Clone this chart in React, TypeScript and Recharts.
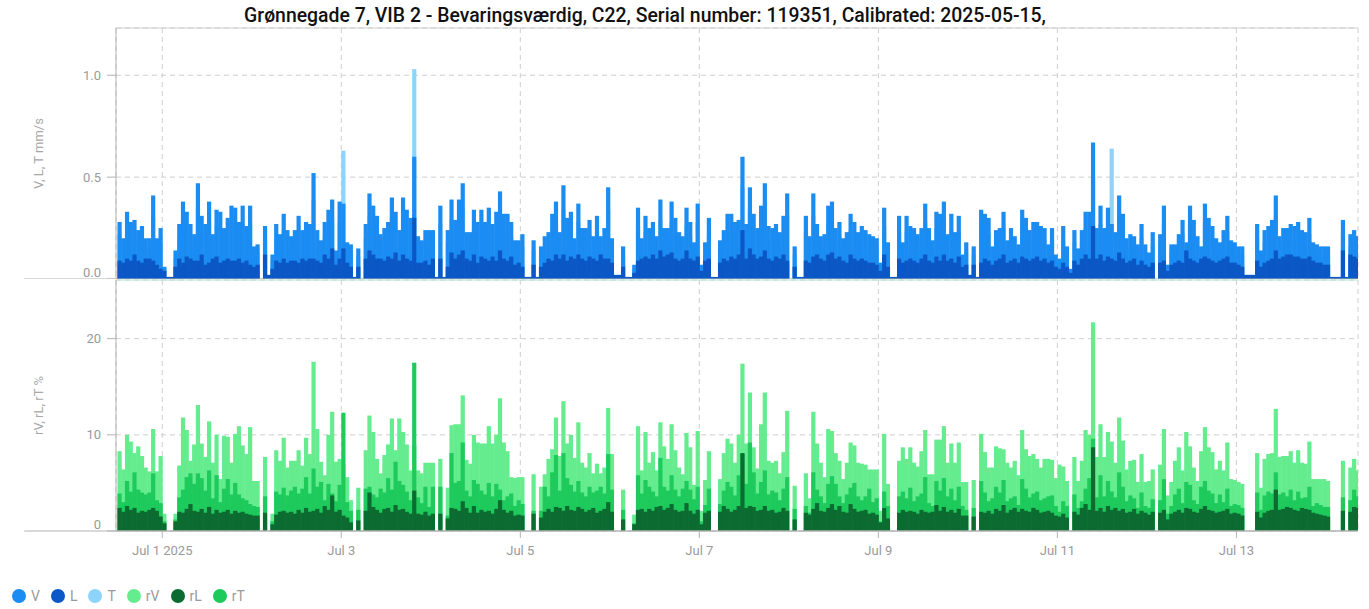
import { BarChart, Bar, XAxis, YAxis, CartesianGrid, ReferenceLine } from "recharts";

// hourly values, first bar = Jun 30 12:00, one row per day
const V = [
  0.28, 0.20, 0.33, 0.28, 0.29, 0.24, 0.26, 0.20, 0.20, 0.41, 0.20, 0.25,
  0.06, 0.01, 0.01, 0.14, 0.27, 0.38, 0.33, 0.27, 0.22, 0.47, 0.31, 0.27, 0.38, 0.22, 0.34, 0.33, 0.25, 0.30, 0.36, 0.35, 0.28, 0.36, 0.26, 0.36,
  0.16, 0.17, null, 0.26, 0.02, 0.12, 0.27, 0.22, 0.32, 0.24, 0.21, 0.24, 0.31, 0.24, 0.28, 0.27, 0.52, 0.24, 0.19, 0.28, 0.34, 0.39, 0.14, 0.38,
  0.37, 0.18, 0.17, 0.01, 0.15, null, 0.27, 0.42, 0.36, 0.31, 0.22, 0.25, 0.28, 0.40, 0.33, 0.24, 0.40, 0.34, 0.30, 0.60, 0.21, 0.19, 0.24, 0.24,
  0.24, 0.01, 0.36, 0.01, 0.24, 0.39, 0.29, 0.39, 0.47, 0.23, 0.23, 0.34, 0.28, 0.34, 0.28, 0.35, 0.27, 0.33, 0.43, 0.32, 0.32, 0.28, 0.19, 0.19,
  0.22, 0.01, 0.01, 0.19, 0.01, 0.16, 0.21, 0.23, 0.32, 0.38, 0.23, 0.46, 0.30, 0.33, 0.20, 0.37, 0.25, 0.25, 0.29, 0.21, 0.31, 0.21, 0.25, 0.45,
  0.20, 0.02, 0.02, 0.16, 0.01, 0.01, 0.07, 0.35, 0.20, 0.31, 0.25, 0.28, 0.21, 0.39, 0.25, 0.25, 0.38, 0.30, 0.23, 0.21, 0.35, 0.28, 0.18, 0.37,
  0.07, 0.18, 0.30, 0.01, 0.01, 0.19, 0.24, 0.32, 0.32, 0.28, 0.29, 0.60, 0.27, 0.45, 0.32, 0.25, 0.36, 0.47, 0.26, 0.25, 0.27, 0.23, 0.31, 0.42,
  null, 0.16, 0.01, 0.01, 0.31, 0.21, 0.42, 0.27, 0.21, 0.22, 0.36, 0.38, 0.25, 0.28, 0.20, 0.23, 0.32, 0.28, 0.23, 0.26, 0.24, 0.22, 0.21, 0.20,
  0.08, 0.35, 0.18, 0.01, 0.01, 0.31, 0.18, 0.31, 0.26, 0.25, 0.22, 0.25, 0.37, 0.25, 0.19, 0.33, 0.32, 0.38, 0.22, 0.32, 0.23, 0.31, 0.12, 0.18,
  0.02, 0.16, 0.01, 0.34, 0.32, 0.30, 0.16, 0.24, 0.25, 0.33, 0.19, 0.25, 0.21, 0.17, 0.34, 0.30, 0.24, 0.28, 0.28, 0.26, 0.25, 0.17, 0.25, 0.12,
  0.10, 0.26, 0.16, 0.05, 0.24, 0.15, 0.24, 0.33, 0.33, 0.67, 0.25, 0.36, 0.25, 0.35, 0.27, 0.23, 0.41, 0.32, 0.20, 0.22, 0.21, 0.17, 0.27, 0.17,
  0.13, 0.23, null, 0.22, 0.36, 0.07, 0.17, 0.17, 0.22, 0.29, 0.18, 0.36, 0.29, 0.21, 0.16, 0.37, 0.30, 0.26, 0.20, 0.18, 0.24, 0.31, 0.19, 0.18,
  0.16, 0.16, 0.02, 0.02, 0.02, 0.27, 0.14, 0.24, 0.26, 0.29, 0.41, 0.21, 0.25, 0.25, 0.27, 0.26, 0.28, 0.24, 0.23, 0.30, 0.18, 0.17, 0.16, 0.16,
  0.16, 0.01, 0.01, 0.01, 0.29, 0.01, 0.22, 0.24, 0.21,
];

const L = [
  0.09, 0.08, 0.10, 0.09, 0.12, 0.09, 0.08, 0.10, 0.10, 0.09, 0.07, 0.05,
  0.04, 0.01, 0.01, 0.06, 0.10, 0.08, 0.11, 0.10, 0.09, 0.09, 0.12, 0.07, 0.08, 0.10, 0.11, 0.08, 0.09, 0.10, 0.09, 0.09, 0.10, 0.08, 0.09, 0.07,
  0.06, 0.07, null, 0.12, 0.02, 0.05, 0.09, 0.08, 0.10, 0.08, 0.09, 0.09, 0.08, 0.10, 0.09, 0.10, 0.10, 0.09, 0.08, 0.12, 0.10, 0.15, 0.07, 0.10,
  0.15, 0.08, 0.06, 0.01, 0.06, null, 0.10, 0.14, 0.12, 0.10, 0.10, 0.09, 0.11, 0.10, 0.13, 0.09, 0.12, 0.10, 0.09, 0.30, 0.08, 0.08, 0.09, 0.07,
  0.10, 0.01, 0.10, 0.01, 0.06, 0.13, 0.10, 0.12, 0.14, 0.10, 0.09, 0.12, 0.08, 0.11, 0.10, 0.09, 0.11, 0.09, 0.14, 0.10, 0.09, 0.11, 0.07, 0.08,
  0.06, 0.01, 0.01, 0.07, 0.01, 0.06, 0.08, 0.10, 0.09, 0.12, 0.10, 0.12, 0.09, 0.11, 0.10, 0.12, 0.10, 0.09, 0.11, 0.10, 0.09, 0.12, 0.10, 0.10,
  0.08, 0.02, 0.02, 0.06, 0.01, 0.01, 0.03, 0.09, 0.10, 0.11, 0.10, 0.12, 0.10, 0.14, 0.11, 0.12, 0.13, 0.10, 0.09, 0.10, 0.14, 0.10, 0.09, 0.11,
  0.04, 0.09, 0.10, 0.01, 0.01, 0.08, 0.10, 0.09, 0.11, 0.10, 0.12, 0.24, 0.10, 0.15, 0.12, 0.10, 0.11, 0.14, 0.10, 0.09, 0.11, 0.10, 0.12, 0.09,
  null, 0.06, 0.01, 0.01, 0.09, 0.08, 0.11, 0.12, 0.10, 0.09, 0.12, 0.13, 0.10, 0.11, 0.09, 0.08, 0.12, 0.10, 0.09, 0.10, 0.09, 0.08, 0.08, 0.07,
  0.04, 0.12, 0.06, 0.01, 0.01, 0.10, 0.08, 0.09, 0.10, 0.09, 0.08, 0.10, 0.12, 0.09, 0.08, 0.11, 0.09, 0.12, 0.09, 0.10, 0.08, 0.11, 0.06, 0.07,
  0.02, 0.07, 0.01, 0.08, 0.10, 0.09, 0.07, 0.09, 0.10, 0.12, 0.08, 0.09, 0.10, 0.08, 0.11, 0.10, 0.09, 0.10, 0.11, 0.09, 0.10, 0.08, 0.09, 0.06,
  0.05, 0.08, 0.06, 0.03, 0.09, 0.07, 0.10, 0.12, 0.10, 0.26, 0.10, 0.12, 0.09, 0.11, 0.10, 0.09, 0.13, 0.10, 0.08, 0.09, 0.10, 0.07, 0.09, 0.07,
  0.06, 0.08, null, 0.08, 0.09, 0.04, 0.07, 0.08, 0.09, 0.08, 0.14, 0.10, 0.09, 0.08, 0.10, 0.11, 0.10, 0.09, 0.08, 0.09, 0.10, 0.11, 0.08, 0.08,
  0.07, 0.06, 0.02, 0.02, 0.02, 0.09, 0.06, 0.08, 0.09, 0.10, 0.14, 0.10, 0.11, 0.12, 0.12, 0.11, 0.11, 0.10, 0.10, 0.11, 0.09, 0.08, 0.08, 0.07,
  0.07, 0.01, 0.01, 0.01, 0.14, 0.01, 0.12, 0.11, 0.10,
];

const T = [
  0.22, 0.15, 0.25, 0.21, 0.22, 0.18, 0.20, 0.16, 0.15, 0.30, 0.16, 0.18,
  0.05, 0.01, 0.01, 0.10, 0.20, 0.28, 0.25, 0.20, 0.17, 0.35, 0.24, 0.20, 0.28, 0.17, 0.26, 0.25, 0.19, 0.23, 0.27, 0.26, 0.21, 0.27, 0.20, 0.27,
  0.12, 0.13, null, 0.20, 0.02, 0.09, 0.20, 0.17, 0.24, 0.18, 0.16, 0.18, 0.23, 0.18, 0.21, 0.20, 0.39, 0.18, 0.14, 0.21, 0.25, 0.29, 0.11, 0.28,
  0.63, 0.14, 0.13, 0.01, 0.11, null, 0.20, 0.31, 0.27, 0.23, 0.17, 0.19, 0.21, 0.30, 0.25, 0.18, 0.30, 0.25, 0.22, 1.03, 0.16, 0.14, 0.18, 0.18,
  0.18, 0.01, 0.27, 0.01, 0.18, 0.29, 0.22, 0.29, 0.35, 0.17, 0.17, 0.25, 0.21, 0.25, 0.21, 0.26, 0.20, 0.25, 0.32, 0.24, 0.24, 0.21, 0.14, 0.14,
  0.16, 0.01, 0.01, 0.14, 0.01, 0.12, 0.16, 0.17, 0.24, 0.28, 0.17, 0.34, 0.22, 0.25, 0.15, 0.28, 0.19, 0.19, 0.22, 0.16, 0.23, 0.16, 0.19, 0.34,
  0.15, 0.02, 0.02, 0.12, 0.01, 0.01, 0.05, 0.26, 0.15, 0.23, 0.19, 0.21, 0.16, 0.29, 0.19, 0.19, 0.28, 0.22, 0.17, 0.16, 0.26, 0.21, 0.13, 0.28,
  0.05, 0.13, 0.22, 0.01, 0.01, 0.14, 0.18, 0.24, 0.24, 0.21, 0.22, 0.45, 0.20, 0.34, 0.24, 0.19, 0.27, 0.35, 0.19, 0.19, 0.20, 0.17, 0.23, 0.31,
  null, 0.12, 0.01, 0.01, 0.23, 0.16, 0.31, 0.20, 0.16, 0.16, 0.27, 0.28, 0.19, 0.21, 0.15, 0.17, 0.24, 0.21, 0.17, 0.19, 0.18, 0.16, 0.16, 0.15,
  0.06, 0.26, 0.13, 0.01, 0.01, 0.23, 0.13, 0.23, 0.19, 0.19, 0.16, 0.19, 0.28, 0.19, 0.14, 0.25, 0.24, 0.28, 0.16, 0.24, 0.17, 0.23, 0.09, 0.13,
  0.02, 0.12, 0.01, 0.25, 0.24, 0.22, 0.12, 0.18, 0.19, 0.25, 0.14, 0.19, 0.16, 0.13, 0.25, 0.22, 0.18, 0.21, 0.21, 0.19, 0.19, 0.13, 0.19, 0.09,
  0.08, 0.19, 0.12, 0.04, 0.18, 0.11, 0.18, 0.25, 0.25, 0.50, 0.19, 0.27, 0.19, 0.26, 0.64, 0.17, 0.31, 0.24, 0.15, 0.16, 0.16, 0.13, 0.20, 0.13,
  0.10, 0.17, null, 0.16, 0.27, 0.05, 0.13, 0.13, 0.16, 0.22, 0.13, 0.27, 0.22, 0.16, 0.12, 0.28, 0.22, 0.19, 0.15, 0.13, 0.18, 0.23, 0.14, 0.13,
  0.12, 0.12, 0.02, 0.02, 0.02, 0.20, 0.10, 0.18, 0.19, 0.22, 0.31, 0.16, 0.19, 0.19, 0.20, 0.19, 0.21, 0.18, 0.17, 0.22, 0.13, 0.13, 0.12, 0.12,
  0.12, 0.01, 0.01, 0.01, 0.22, 0.01, 0.16, 0.18, 0.16,
];

const rV = [
  8.3, 6.4, 10.0, 9.3, 8.1, 8.8, 7.8, 6.6, 6.2, 10.6, 6.2, 7.8,
  1.8, null, null, 1.8, 6.8, 11.8, 10.5, 7.3, 9.0, 13.1, 9.1, 7.7, 11.4, 7.1, 10.0, 5.4, 9.9, 9.8, 7.1, 10.1, 10.9, 8.9, 8.0, 10.8,
  5.2, 5.2, null, 7.7, null, 1.8, 8.4, 7.3, 9.7, 6.6, 7.3, 7.3, 8.4, 6.8, 9.7, 8.0, 17.6, 10.6, 7.2, 5.8, 10.0, 12.4, 7.2, 7.5,
  7.0, 5.6, 3.2, null, 4.5, null, 8.4, 12.0, 10.3, 7.5, 6.0, 7.9, 9.0, 11.7, 8.4, 11.7, 10.3, 9.0, 6.3, 8.9, 6.3, 6.0, 7.1, 7.1,
  7.1, null, 7.5, null, 4.5, 11.0, 11.1, 11.1, 14.1, 7.4, 7.0, 10.0, 9.2, 9.1, 9.1, 10.9, 9.1, 10.0, 13.8, 9.2, 8.3, 5.6, 5.5, 5.6,
  5.6, null, null, 5.9, null, 4.6, 5.9, 7.5, 8.5, 11.8, 7.8, 13.5, 9.1, 10.0, 7.6, 11.3, 7.1, 6.6, 8.1, 6.0, 7.0, 6.0, 6.6, 12.8,
  8.0, null, null, 4.3, null, null, 1.7, 10.9, 6.3, 10.3, 7.1, 8.2, 6.3, 11.3, 8.8, 7.5, 11.1, 8.4, 6.6, 5.9, 10.2, 8.7, 4.8, 10.4,
  2.1, 5.3, 8.3, null, null, 5.4, 8.1, 9.6, 9.1, 7.1, 10.0, 17.4, 9.1, 14.4, 8.7, 6.5, 11.1, 14.4, 7.3, 7.1, 7.3, 6.0, 8.2, 12.5,
  null, 4.7, null, null, 6.0, 3.4, 12.4, 9.1, 7.1, 5.6, 10.6, 10.4, 8.1, 7.3, 5.4, 7.1, 9.2, 8.9, 7.1, 7.0, 6.9, 6.4, 6.4, 6.4,
  2.1, 10.1, 4.9, null, null, 7.3, 8.7, 7.5, 8.7, 7.1, 6.7, 8.3, 10.5, 5.9, 5.9, 9.5, 9.5, 10.9, 7.1, 9.1, 7.1, 9.2, 5.1, 5.1,
  null, 5.3, null, 10.1, 8.2, 6.6, 6.6, 8.8, 8.6, 8.5, 7.1, 6.6, 7.3, 5.8, 10.5, 8.5, 7.8, 8.0, 7.5, 6.6, 7.5, 7.5, 7.4, 5.5,
  6.9, 6.7, 5.2, null, 7.7, 5.2, 7.3, 10.5, 10.0, 21.7, 7.7, 11.1, 7.7, 10.3, 9.3, 7.1, 11.8, 9.4, 6.4, 7.3, 7.4, 5.1, 8.0, 5.1,
  5.2, 6.4, null, 6.9, 10.6, 3.7, 5.1, 7.3, 8.7, 6.3, 10.3, 8.8, 6.6, 5.2, 8.3, 10.8, 8.7, 8.2, 6.4, 7.3, 6.3, 9.2, 5.4, 5.3,
  5.1, 4.9, null, null, null, 8.1, 4.5, 7.5, 8.0, 8.1, 12.7, 7.7, 7.8, 7.8, 8.3, 7.1, 8.4, 7.1, 7.0, 9.3, 5.4, 5.4, 5.4, 5.4,
  5.2, null, null, null, 7.3, null, 6.6, 7.5, 6.3,
];

const rT = [
  3.9, 3.0, 5.2, 4.1, 6.1, 4.3, 4.0, 3.8, 4.0, 6.0, 3.2, 2.9,
  1.0, null, null, 1.2, 3.5, 4.3, 5.6, 6.0, 4.9, 6.0, 5.5, 4.2, 6.3, 3.4, 5.8, 3.0, 4.4, 5.4, 3.8, 5.0, 3.8, 3.4, 3.2, 2.8,
  2.6, 2.5, null, 3.6, null, 1.0, 4.1, 3.8, 4.5, 3.7, 4.2, 4.6, 3.9, 4.4, 5.6, 3.9, 6.5, 4.6, 5.1, 3.2, 4.9, 3.9, 3.1, 4.8,
  12.3, 3.0, 2.1, null, 2.2, null, 4.4, 4.6, 3.8, 3.5, 4.4, 4.0, 5.5, 4.3, 7.2, 5.2, 4.8, 4.1, 3.2, 17.5, 3.5, 2.9, 4.6, 2.5,
  4.6, null, 4.6, null, 1.6, 8.1, 5.0, 5.2, 9.2, 4.2, 3.6, 5.3, 4.9, 4.2, 3.8, 5.0, 3.6, 4.9, 4.3, 3.2, 3.6, 3.9, 2.6, 3.2,
  2.8, null, null, 2.1, null, 2.1, 4.6, 3.6, 6.1, 7.9, 4.2, 8.1, 5.5, 4.8, 4.1, 5.2, 4.0, 3.6, 4.6, 4.0, 4.2, 4.6, 3.9, 8.0,
  4.3, null, null, 2.2, null, null, 0.8, 5.8, 3.9, 5.3, 4.6, 4.1, 3.6, 7.6, 4.6, 4.2, 5.8, 4.3, 3.6, 4.4, 5.2, 4.3, 3.3, 4.6,
  1.0, 2.7, 4.4, null, null, 2.8, 4.2, 5.1, 4.6, 3.7, 5.8, 8.0, 4.9, 9.2, 6.1, 3.9, 5.1, 6.3, 3.8, 4.2, 4.0, 3.2, 4.4, 5.6,
  null, 2.3, null, null, 2.6, 1.9, 6.1, 4.3, 3.6, 2.9, 4.9, 5.7, 4.9, 3.6, 2.9, 3.8, 4.5, 5.0, 3.6, 3.2, 3.6, 4.4, 3.0, 3.4,
  1.0, 4.1, 2.6, null, null, 3.6, 4.1, 3.4, 4.5, 3.1, 3.6, 3.9, 5.6, 2.9, 2.6, 5.2, 4.2, 5.5, 3.6, 4.4, 3.2, 4.6, 2.6, 2.2,
  null, 2.4, null, 5.2, 4.0, 3.1, 3.4, 4.6, 4.0, 5.3, 3.1, 3.4, 3.6, 2.7, 5.4, 4.4, 3.5, 3.9, 4.1, 3.2, 3.4, 3.6, 3.7, 2.6,
  2.0, 3.1, 2.6, null, 3.8, 2.4, 3.1, 4.4, 5.5, 9.6, 3.5, 5.8, 3.6, 5.2, 4.1, 3.5, 6.1, 4.6, 3.1, 3.7, 3.4, 2.4, 4.0, 2.6,
  2.4, 3.3, null, 3.2, 5.4, 1.8, 2.6, 3.8, 4.4, 2.9, 5.1, 4.8, 3.2, 2.8, 4.6, 5.2, 4.2, 3.9, 2.9, 3.8, 3.0, 4.4, 2.6, 2.8,
  2.7, 2.4, null, null, null, 4.0, 2.2, 3.7, 4.1, 3.9, 6.1, 3.8, 4.0, 3.6, 4.3, 3.2, 4.1, 3.4, 3.5, 4.6, 2.6, 2.9, 2.7, 2.5,
  2.5, null, null, null, 3.5, null, 3.2, 4.3, 3.6,
];

const rL = [
  2.4, 2.0, 2.6, 2.2, 2.4, 1.9, 2.1, 2.0, 2.2, 2.4, 2.1, 1.5,
  0.8, null, null, 1.0, 2.0, 1.9, 2.3, 2.8, 2.1, 2.0, 2.3, 1.9, 2.5, 1.8, 2.2, 1.9, 2.0, 2.2, 1.8, 2.1, 1.9, 2.0, 1.8, 1.7,
  1.6, 1.6, null, 1.9, null, 0.7, 1.7, 2.0, 2.1, 1.9, 2.0, 1.8, 2.2, 1.9, 2.4, 2.0, 2.1, 2.3, 1.9, 2.6, 2.2, 3.7, 2.0, 2.2,
  1.6, 1.4, 0.9, null, 1.1, null, 2.1, 4.0, 2.5, 2.2, 1.9, 2.3, 2.4, 2.0, 2.7, 2.2, 2.3, 2.0, 1.8, 4.2, 1.8, 1.7, 2.0, 1.6,
  1.8, null, 1.8, null, 1.3, 2.4, 2.3, 2.1, 3.1, 2.4, 1.9, 2.6, 1.9, 2.2, 2.0, 2.1, 1.8, 2.3, 3.2, 2.2, 1.9, 2.1, 1.6, 1.7,
  1.6, null, null, 1.8, null, 1.4, 2.0, 2.3, 2.0, 2.5, 2.4, 2.1, 2.6, 2.2, 2.1, 2.5, 2.3, 2.0, 2.2, 2.4, 1.9, 2.1, 2.3, 3.0,
  2.0, null, null, 1.2, null, null, 0.7, 2.2, 2.3, 2.0, 2.3, 2.1, 2.5, 2.6, 2.2, 2.4, 2.8, 2.2, 2.0, 2.1, 2.9, 2.1, 1.8, 2.2,
  0.7, 1.9, 2.1, null, null, 2.0, 2.6, 2.3, 2.0, 2.2, 2.6, 8.1, 2.4, 2.6, 2.5, 2.1, 2.2, 2.6, 2.1, 2.2, 1.9, 2.0, 2.4, 2.1,
  null, 1.2, null, null, 1.9, 1.7, 2.3, 2.9, 2.1, 2.0, 2.4, 2.8, 2.2, 2.6, 2.0, 1.9, 2.8, 2.3, 2.0, 2.1, 2.2, 1.8, 1.9, 1.7,
  0.9, 2.4, 1.3, null, null, 1.9, 2.2, 2.0, 2.1, 2.0, 1.8, 2.2, 2.0, 1.9, 2.0, 2.7, 2.1, 2.5, 2.0, 2.2, 1.9, 2.3, 1.6, 1.6,
  null, 1.5, null, 2.0, 1.9, 2.1, 1.8, 2.3, 2.1, 2.7, 1.9, 2.2, 2.4, 2.0, 2.3, 2.1, 2.0, 2.4, 2.2, 1.9, 2.0, 2.1, 1.9, 1.6,
  1.5, 1.8, 1.4, null, 2.0, 1.7, 2.4, 2.8, 2.2, 8.7, 2.1, 2.4, 2.0, 2.6, 2.2, 2.4, 2.1, 2.3, 1.9, 2.0, 2.3, 1.8, 2.1, 1.9,
  1.7, 2.0, null, 1.9, 2.2, 1.2, 1.8, 2.0, 2.2, 1.9, 2.4, 2.3, 2.0, 1.9, 2.3, 2.6, 2.2, 2.1, 1.9, 2.0, 2.1, 2.3, 1.8, 1.9,
  1.8, 1.6, null, null, null, 2.0, 1.4, 1.9, 2.1, 2.2, 4.3, 2.2, 2.3, 2.5, 2.4, 2.2, 2.1, 2.4, 2.3, 2.2, 1.9, 1.8, 1.7, 1.6,
  1.5, null, null, null, 2.1, null, 2.0, 2.5, 2.4,
];

// hour index of each labelled midnight
const DAY_TICKS = [12, 60, 108, 156, 204, 252, 300];
const DAY_LABELS = ["Jul 1 2025", "Jul 3", "Jul 5", "Jul 7", "Jul 9", "Jul 11", "Jul 13"];
const TOP_TICKS = [0, 0.5, 1.0];
const BOTTOM_TICKS = [0, 10, 20];

const TITLE =
  "Grønnegade 7, VIB 2 - Bevaringsværdig, C22, Serial number: 119351, Calibrated: 2025-05-15,";

const X_DOMAIN: [number, number] = [-0.4, 332.6];
const TOP_MAX = 1.232;
const BOTTOM_MAX = 26.1;

const COLORS: Record<string, string> = {
  V: "#1a8cf2",
  L: "#0b57c6",
  T: "#8dd3fa",
  rV: "#64ec8e",
  rL: "#0c6b30",
  rT: "#1dca5b",
};
const LEGEND = ["V", "L", "T", "rV", "rL", "rT"];

const rows = V.map((v, i) => ({
  t: i + 0.5,
  V: v,
  L: L[i],
  T: T[i],
  rV: rV[i],
  rL: rL[i],
  rT: rT[i],
}));

const GRID = "#cfcfcf";
const AXIS = "#b3b3b3";
const TEXT = "#9a9a9a";

function HourBar(props: any) {
  const { x, y, width, height, fill } = props;
  if (x == null || !height || height <= 0) return null;
  return <rect x={x} y={y} width={width + 0.5} height={height} fill={fill} />;
}

function YTick(props: any) {
  const { x, y, payload, decimals } = props;
  const v = payload.value as number;
  return (
    <text x={x} y={v === 0 ? y - 7 : y} dy="0.35em" textAnchor="end" fill={TEXT} fontSize={13}>
      {decimals ? v.toFixed(1) : v}
    </text>
  );
}

function XTick(props: any) {
  const { x, y, payload } = props;
  const i = DAY_TICKS.indexOf(payload.value);
  return (
    <text x={x} y={y} dy="0.75em" textAnchor="middle" fill={TEXT} fontSize={13}>
      {DAY_LABELS[i] ?? ""}
    </text>
  );
}

function hiddenX(id: string) {
  return (
    <XAxis
      key={id}
      xAxisId={id}
      type="number"
      dataKey="t"
      domain={X_DOMAIN}
      allowDataOverflow
      ticks={DAY_TICKS}
      height={0}
      hide
    />
  );
}

function series(key: string) {
  return (
    <Bar
      key={key}
      xAxisId={"x" + key}
      dataKey={key}
      fill={COLORS[key]}
      barSize={3.7}
      isAnimationActive={false}
      shape={(p: any) => <HourBar {...p} />}
    />
  );
}

export default function App() {
  return (
    <div
      style={{
        position: "absolute",
        left: 0,
        top: 0,
        width: 1369,
        height: 609,
        background: "#fff",
        fontFamily: "Roboto, sans-serif",
      }}
    >
      <div
        style={{
          position: "absolute",
          left: 145,
          top: 4,
          width: 1000,
          textAlign: "center",
          fontSize: 19.4,
          fontWeight: 500,
          color: "#111",
          whiteSpace: "nowrap",
        }}
      >
        {TITLE}
      </div>

      <div style={{ position: "absolute", left: 0, top: 0 }}>
        <BarChart width={1369} height={279} data={rows} margin={{ top: 28, right: 11, bottom: 0, left: 0 }}>
          <CartesianGrid xAxisId="xV" stroke={GRID} strokeDasharray="5 4" />
          {hiddenX("xT")}
          {hiddenX("xV")}
          {hiddenX("xL")}
          <YAxis
            width={116}
            domain={[0, TOP_MAX]}
            ticks={TOP_TICKS}
            interval={0}
            tickSize={9}
            tickMargin={6}
            axisLine={{ stroke: AXIS }}
            tickLine={{ stroke: AXIS }}
            tick={(p: any) => <YTick {...p} decimals />}
            label={{ value: "V, L, T mm/s", angle: -90, position: "center", dx: -20, fill: "#a8a8a8", fontSize: 13 }}
          />
          <ReferenceLine xAxisId="xV" y={TOP_MAX} stroke={GRID} ifOverflow="visible" />
          {series("T")}
          {series("V")}
          {series("L")}
          <ReferenceLine
            xAxisId="xV"
            segment={[{ x: -25, y: 0 }, { x: X_DOMAIN[1], y: 0 }]}
            stroke={AXIS}
            ifOverflow="visible"
          />
        </BarChart>
      </div>

      <div style={{ position: "absolute", left: 0, top: 279 }}>
        <BarChart width={1369} height={282} data={rows} margin={{ top: 1, right: 11, bottom: 0, left: 0 }}>
          <CartesianGrid xAxisId="xrV" stroke={GRID} strokeDasharray="5 4" />
          <XAxis
            xAxisId="xrV"
            type="number"
            dataKey="t"
            domain={X_DOMAIN}
            allowDataOverflow
            ticks={DAY_TICKS}
            interval={0}
            height={30}
            tickSize={7}
            tickMargin={7}
            axisLine={{ stroke: AXIS }}
            tickLine={{ stroke: AXIS }}
            tick={(p: any) => <XTick {...p} />}
          />
          {hiddenX("xrT")}
          {hiddenX("xrL")}
          <YAxis
            width={116}
            domain={[0, BOTTOM_MAX]}
            ticks={BOTTOM_TICKS}
            interval={0}
            tickSize={9}
            tickMargin={6}
            axisLine={{ stroke: AXIS }}
            tickLine={{ stroke: AXIS }}
            tick={(p: any) => <YTick {...p} />}
            label={{ value: "rV, rL, rT %", angle: -90, position: "center", dx: -20, fill: "#a8a8a8", fontSize: 13 }}
          />
          <ReferenceLine xAxisId="xrV" y={BOTTOM_MAX} stroke="#b4e2dc" ifOverflow="visible" />
          {series("rV")}
          {series("rT")}
          {series("rL")}
          <ReferenceLine
            xAxisId="xrV"
            segment={[{ x: -25, y: 0 }, { x: X_DOMAIN[1], y: 0 }]}
            stroke={AXIS}
            ifOverflow="visible"
          />
        </BarChart>
      </div>

      <div
        style={{
          position: "absolute",
          left: 12,
          top: 588,
          display: "flex",
          alignItems: "center",
          fontSize: 14,
          color: TEXT,
        }}
      >
        {LEGEND.map((k) => (
          <div key={k} style={{ display: "flex", alignItems: "center", marginRight: 11 }}>
            <span
              style={{
                width: 14,
                height: 14,
                borderRadius: 7,
                background: COLORS[k],
                display: "inline-block",
                marginRight: 5,
              }}
            />
            <span>{k}</span>
          </div>
        ))}
      </div>
    </div>
  );
}
